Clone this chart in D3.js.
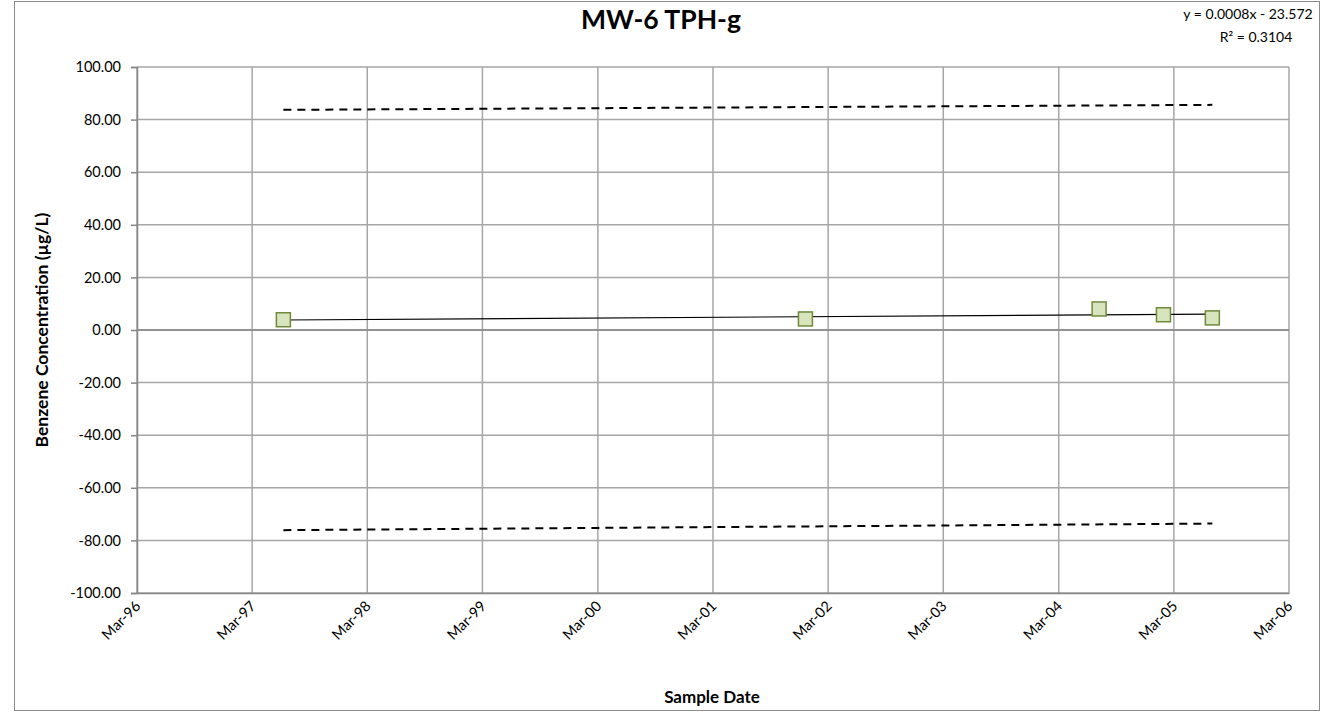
<!DOCTYPE html>
<html><head><meta charset="utf-8">
<script src="https://cdn.jsdelivr.net/npm/d3@7"></script>
<style>body{margin:0;background:#fff}svg{display:block}text{font-family:Lato,"Liberation Sans",sans-serif}</style>
</head><body><svg id="c" width="1327" height="713"></svg>
<script>
// ---- data ----
const sampleDates = ["1997-06-08","2001-12-19","2004-07-07","2005-01-27","2005-07-01"];
const values = [3.9, 4.2, 8.0, 5.8, 4.6];
const bandDates = ["1997-06-08","2005-07-01"];
const upperBand = [83.7, 85.6];
const lowerBand = [-76.1, -73.6];
const yTicks = [100,80,60,40,20,0,-20,-40,-60,-80,-100];
const xTickYears = [1996,1997,1998,1999,2000,2001,2002,2003,2004,2005,2006];
const titleText = "MW-6 TPH-g";
const eqLines = ["y = 0.0008x - 23.572", "R² = 0.3104"];
const xTitle = "Sample Date";
const yTitle = "Benzene Concentration (µg/L)";

const parse = d3.timeParse("%Y-%m-%d");
const svg = d3.select("#c");
const L = 137, R = 1289, T = 67, B = 593;

const x = d3.scaleTime().domain([new Date(1996,2,1), new Date(2006,2,1)]).range([L, R]);
const y = d3.scaleLinear().domain([-100, 100]).range([B, T]);
const xTickDates = xTickYears.map(yr => new Date(yr, 2, 1));
const fmt2 = d => d3.format(".2f")(d).replace("\u2212","-");

// outer border
svg.append("rect").attr("x",14.5).attr("y",1.5).attr("width",1305).attr("height",709)
  .attr("fill","none").attr("stroke","#8c8c8c").attr("stroke-width",1);

// gridlines
const g = svg.append("g");
g.selectAll("line.h").data(yTicks).join("line")
  .attr("x1",L).attr("x2",R).attr("y1",d=>y(d)).attr("y2",d=>y(d))
  .attr("stroke","#a6a6a6").attr("stroke-width",1.5);
g.selectAll("line.v").data(xTickDates).join("line")
  .attr("y1",T).attr("y2",B).attr("x1",d=>x(d)).attr("x2",d=>x(d))
  .attr("stroke","#a6a6a6").attr("stroke-width",1.5);

// y axis
const yAxis = svg.append("g").attr("transform",`translate(${L},0)`)
  .call(d3.axisLeft(y).tickValues(yTicks).tickSize(6).tickPadding(10).tickFormat(fmt2));
yAxis.select(".domain").attr("stroke","#868686").attr("stroke-width",1.5);
yAxis.selectAll(".tick line").attr("stroke","#868686").attr("stroke-width",1.5);
yAxis.selectAll("text").attr("font-size",14.5).attr("fill","#000")
  .style("font-family","Lato,'Liberation Sans',sans-serif");

// zero axis line
svg.append("line").attr("x1",L).attr("x2",R).attr("y1",y(0)).attr("y2",y(0))
  .attr("stroke","#868686").attr("stroke-width",1.5);

// x axis labels
const xAxis = svg.append("g").attr("transform",`translate(0,${B})`)
  .call(d3.axisBottom(x).tickValues(xTickDates).tickSize(0).tickFormat(d3.timeFormat("%b-%y")));
xAxis.select(".domain").attr("stroke","#868686").attr("stroke-width",1.5);
xAxis.selectAll("text").attr("font-size",14.5).attr("fill","#000")
  .style("font-family","Lato,'Liberation Sans',sans-serif")
  .attr("text-anchor","end").attr("dy",null).attr("y",null)
  .attr("transform","translate(4,14) rotate(-45)");

// band dashed lines
const bandLine = d3.line().x(d=>x(parse(d[0]))).y(d=>y(d[1]));
[upperBand, lowerBand].forEach(b => {
  svg.append("path").datum(bandDates.map((dt,i)=>[dt,b[i]]))
    .attr("d",bandLine).attr("fill","none").attr("stroke","#000")
    .attr("stroke-width",2).attr("stroke-dasharray","8,6");
});

// linear trend from data
const xs = sampleDates.map(d=>+parse(d));
const mx = d3.mean(xs), my = d3.mean(values);
const slope = d3.sum(xs.map((v,i)=>(v-mx)*(values[i]-my))) / d3.sum(xs.map(v=>(v-mx)*(v-mx)));
const icpt = my - slope*mx;
const xmin = d3.min(xs), xmax = d3.max(xs);
svg.append("line").attr("x1",x(xmin)).attr("x2",x(xmax))
  .attr("y1",y(icpt+slope*xmin)).attr("y2",y(icpt+slope*xmax))
  .attr("stroke","#000").attr("stroke-width",1.2);

// markers
const s = 14;
svg.selectAll("rect.m").data(sampleDates.map((d,i)=>({d:parse(d),v:values[i]}))).join("rect")
  .attr("x",d=>x(d.d)-s/2).attr("y",d=>y(d.v)-s/2).attr("width",s).attr("height",s)
  .attr("fill","#d7e4bd").attr("stroke","#6f8a3a").attr("stroke-width",1.5);

// title
svg.append("text").attr("x",661).attr("y",29).attr("text-anchor","middle")
  .attr("font-size",26.5).attr("font-weight","bold").text(titleText);

// equation
svg.append("text").attr("x",1248).attr("y",19).attr("text-anchor","middle")
  .attr("font-size",14).text(eqLines[0]);
svg.append("text").attr("x",1256).attr("y",42).attr("text-anchor","middle")
  .attr("font-size",14).text(eqLines[1]);

// axis titles
svg.append("text").attr("x",712).attr("y",703).attr("text-anchor","middle")
  .attr("font-size",17).attr("font-weight","bold").text(xTitle);
svg.append("text").attr("transform","translate(48,330) rotate(-90)").attr("text-anchor","middle")
  .attr("font-size",17.5).attr("font-weight","bold").text(yTitle);
</script></body></html>
